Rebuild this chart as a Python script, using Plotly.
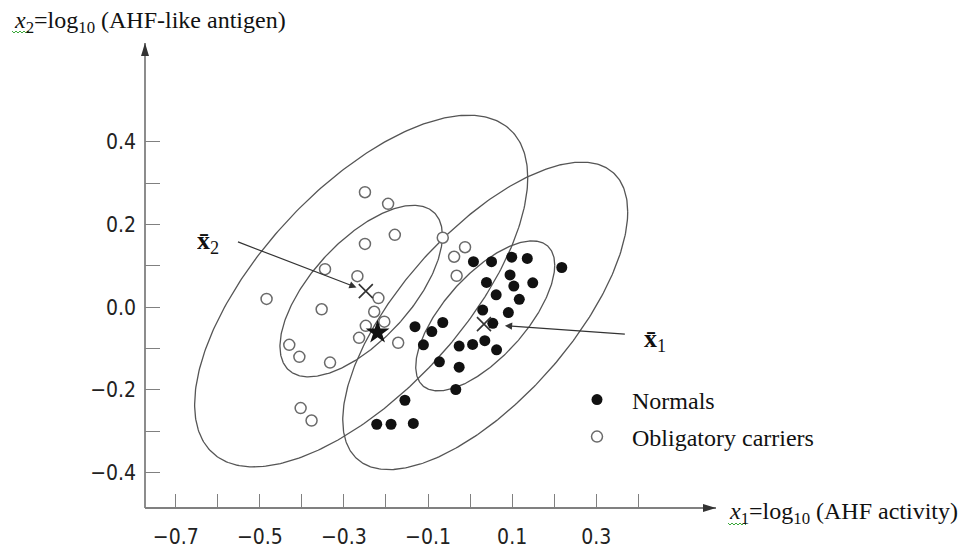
import numpy as np
import plotly.graph_objects as go

# ---------------- data ----------------
normals_x = [0.008, 0.051, 0.099, 0.136, 0.218, 0.039, 0.095, 0.104, 0.149, 0.062,
             0.117, 0.030, 0.091, 0.054, -0.131, -0.065, -0.091, -0.111, -0.026, 0.006,
             0.035, 0.063, -0.073, -0.026, -0.034, -0.155, -0.222, -0.188, -0.135]
normals_y = [0.110, 0.110, 0.121, 0.118, 0.096, 0.060, 0.078, 0.051, 0.059, 0.030,
             0.019, -0.007, -0.013, -0.039, -0.047, -0.037, -0.059, -0.091, -0.094, -0.090,
             -0.081, -0.103, -0.132, -0.145, -0.199, -0.225, -0.283, -0.283, -0.281]

carriers_x = [-0.250, -0.195, -0.179, -0.250, -0.065, -0.345, -0.268, -0.218, -0.484, -0.353,
              -0.228, -0.204, -0.248, -0.264, -0.171, -0.430, -0.406, -0.333, -0.403, -0.377,
              -0.012, -0.038, -0.032]
carriers_y = [0.278, 0.250, 0.175, 0.153, 0.168, 0.092, 0.075, 0.022, 0.020, -0.005,
              -0.011, -0.035, -0.045, -0.074, -0.086, -0.091, -0.120, -0.134, -0.244, -0.274,
              0.145, 0.122, 0.076]

mean_normals = [0.033, -0.041]
mean_carriers = [-0.248, 0.039]
new_obs = [-0.220, -0.061]

# ellipse centres and shape matrices (s11, s12, s22), contour radii
ell_normals_center = [0.036, -0.021]
ell_normals_shape = [0.02732, 0.02027, 0.03288]
ell_carriers_center = [-0.259, 0.039]
ell_carriers_shape = [0.03733, 0.02583, 0.04301]
ell_radii = [1.0, 2.05]

# label tails for the mean arrows (data units)
label_tail_carriers = [-0.552, 0.158]
label_tail_normals = [0.368, -0.065]

x_major = [-0.7, -0.5, -0.3, -0.1, 0.1, 0.3]
x_major_text = ["\u22120.7", "\u22120.5", "\u22120.3", "\u22120.1", "0.1", "0.3"]
x_minor = [-0.7, -0.6, -0.5, -0.4, -0.3, -0.2, -0.1, 0.0, 0.1, 0.2, 0.3, 0.4]
y_major = [-0.4, -0.2, 0.0, 0.2, 0.4]
y_major_text = ["\u22120.4", "\u22120.2", "0.0", "0.2", "0.4"]
y_minor = [-0.4, -0.3, -0.2, -0.1, 0.0, 0.1, 0.2, 0.3, 0.4]

# ---------------- figure ----------------
SERIF = "Liberation Serif, Times New Roman, serif"
TICKFONT = "DejaVu Sans Condensed, DejaVu Sans, Liberation Sans, sans-serif"
ELL_COLOR = "#555555"
AX_COLOR = "#808080"
HEAD_COLOR = "#333333"

fig = go.Figure()

t = np.linspace(0, 2 * np.pi, 361)
for center, shape in [(ell_normals_center, ell_normals_shape),
                      (ell_carriers_center, ell_carriers_shape)]:
    S = np.array([[shape[0], shape[1]], [shape[1], shape[2]]])
    L = np.linalg.cholesky(S)
    for r in ell_radii:
        pts = r * (L @ np.vstack([np.cos(t), np.sin(t)]))
        fig.add_trace(go.Scatter(x=center[0] + pts[0], y=center[1] + pts[1], mode="lines",
                                 line=dict(color=ELL_COLOR, width=1.3),
                                 hoverinfo="skip", showlegend=False))

fig.add_trace(go.Scatter(x=normals_x, y=normals_y, mode="markers", name="Normals",
                         marker=dict(symbol="circle", size=11, color="#111111",
                                     line=dict(width=0)),
                         legend="legend"))
fig.add_trace(go.Scatter(x=carriers_x, y=carriers_y, mode="markers", name="Obligatory carriers",
                         marker=dict(symbol="circle", size=11, color="white",
                                     line=dict(width=1.5, color="#6a6a6a")),
                         legend="legend2"))
fig.add_trace(go.Scatter(x=[mean_normals[0], mean_carriers[0]], y=[mean_normals[1], mean_carriers[1]],
                         mode="markers", showlegend=False,
                         marker=dict(symbol="x-thin", size=14, line=dict(width=1.6, color="#333333"))))
fig.add_trace(go.Scatter(x=[new_obs[0]], y=[new_obs[1]], mode="markers", showlegend=False,
                         marker=dict(symbol="star", size=18, color="#111111")))

# green spell-check squiggle (as in the scanned source) under the x of each axis title
squiggle = "M 0 0 L 2 -2 L 4 0 L 6 -2 L 8 0 L 10 -2 L 12 0 L 14 -2 L 16 0 L 18 -2"

# axis lines with arrow heads (shapes)
shapes = [
    dict(type="line", xref="paper", yref="paper", x0=0, x1=1, y0=0, y1=0,
         line=dict(color=AX_COLOR, width=1.8), layer="below"),
    dict(type="line", xref="paper", yref="paper", x0=0, x1=0, y0=0, y1=1,
         line=dict(color=AX_COLOR, width=1.8), layer="below"),
    dict(type="path", xref="paper", yref="paper", xsizemode="pixel", ysizemode="pixel",
         xanchor=1, yanchor=0, path="M 0 0 L -13 4 L -13 -4 Z",
         fillcolor=HEAD_COLOR, line=dict(width=0)),
    dict(type="path", xref="paper", yref="paper", xsizemode="pixel", ysizemode="pixel",
         xanchor=0, yanchor=1, path="M 0 0 L -4 -13 L 4 -13 Z",
         fillcolor=HEAD_COLOR, line=dict(width=0)),
    dict(type="path", xref="paper", yref="paper", xsizemode="pixel", ysizemode="pixel",
         xanchor=(12 - 145) / 571, yanchor=(508 - 31) / 465, path=squiggle,
         line=dict(color="#3aa83a", width=1)),
    dict(type="path", xref="paper", yref="paper", xsizemode="pixel", ysizemode="pixel",
         xanchor=(728 - 145) / 571, yanchor=(508 - 523) / 465, path=squiggle,
         line=dict(color="#3aa83a", width=1)),
]

ann = []
# axis titles
ann.append(dict(xref="paper", yref="paper", x=(12 - 145) / 571, y=(508 - 22) / 465,
                xanchor="left", yanchor="middle", showarrow=False,
                text="<i>x</i><sub>2</sub>=log<sub>10</sub> (AHF-like antigen)",
                font=dict(family=SERIF, size=24, color="#111111")))
ann.append(dict(xref="paper", yref="paper", x=(727 - 145) / 571, y=(508 - 513) / 465,
                xanchor="left", yanchor="middle", showarrow=False,
                text="<i>x</i><sub>1</sub>=log<sub>10</sub> (AHF activity)",
                font=dict(family=SERIF, size=24, color="#111111")))
# mean labels with arrows
ann.append(dict(xref="x", yref="y", x=mean_carriers[0], y=mean_carriers[1], axref="x", ayref="y",
                ax=label_tail_carriers[0], ay=label_tail_carriers[1],
                showarrow=True, arrowhead=2, arrowsize=1.2, arrowwidth=1.2,
                arrowcolor="#333333", standoff=10,
                xanchor="right", yanchor="middle", width=40, align="left", borderpad=0,
                text="<b>x\u0304</b><sub>2</sub>", font=dict(family=SERIF, size=26, color="#111111")))
ann.append(dict(xref="x", yref="y", x=mean_normals[0], y=mean_normals[1], axref="x", ayref="y",
                ax=label_tail_normals[0], ay=label_tail_normals[1],
                showarrow=True, arrowhead=2, arrowsize=1.2, arrowwidth=1.2,
                arrowcolor="#333333", standoff=21,
                xanchor="left", yanchor="middle", width=40, height=44, align="right",
                valign="bottom", borderpad=0,
                text="<b>x\u0304</b><sub>1</sub>", font=dict(family=SERIF, size=26, color="#111111")))

legend_common = dict(font=dict(family=SERIF, size=24, color="#111111"), bgcolor="rgba(0,0,0,0)",
                     borderwidth=0, xanchor="left", yanchor="middle", itemwidth=60)

fig.update_layout(
    width=961, height=552,
    margin=dict(l=145, r=245, t=43, b=44, autoexpand=False),
    paper_bgcolor="white", plot_bgcolor="white",
    showlegend=True,
    legend=dict(x=(562 - 145) / 571, y=(508 - 400) / 465, **legend_common),
    legend2=dict(x=(562 - 145) / 571, y=(508 - 437) / 465, **legend_common),
    xaxis=dict(range=[-0.7731, 0.5848], showgrid=False, zeroline=False, showline=False,
               automargin=False,
               tickmode="array", tickvals=x_major, ticktext=x_major_text,
               ticks="inside", ticklen=14, tickwidth=1.3, tickcolor=AX_COLOR,
               ticklabelstandoff=14,
               minor=dict(tickmode="array", tickvals=x_minor, ticks="inside", ticklen=14,
                          tickwidth=1.3, tickcolor=AX_COLOR, showgrid=False),
               tickfont=dict(family=TICKFONT, size=21, color="#222222")),
    yaxis=dict(range=[-0.4855, 0.6388], showgrid=False, zeroline=False, showline=False,
               automargin=False,
               tickmode="array", tickvals=y_major, ticktext=y_major_text,
               ticks="inside", ticklen=15, tickwidth=1.3, tickcolor=AX_COLOR,
               ticklabelstandoff=8,
               minor=dict(tickmode="array", tickvals=y_minor, ticks="inside", ticklen=15,
                          tickwidth=1.3, tickcolor=AX_COLOR, showgrid=False),
               tickfont=dict(family=TICKFONT, size=21, color="#222222")),
    shapes=shapes,
    annotations=ann,
)

fig.write_html("out.html")
